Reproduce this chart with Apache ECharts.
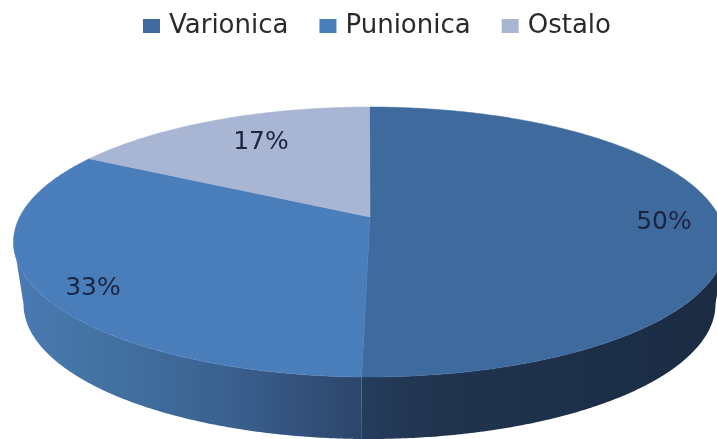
<!DOCTYPE html>
<html>
<head>
<meta charset="utf-8">
<style>html,body{margin:0;padding:0;background:#fff}#c{width:717px;height:439px}</style>
<script src="https://cdn.jsdelivr.net/npm/echarts@6/dist/echarts.min.js"></script>
</head>
<body>
<div id="c"></div>
<script>
const categories = ['Varionica', 'Punionica', 'Ostalo'];
const values = [50, 33, 17];
const topColors = ['#3f6a9e', '#4a7ebb', '#a8b6d4'];

const TOP = {cx: 369.5, cy: 242, rx: 356, ry: 135};
const BASE = {cx: 369.5, cy: 304, rx: 346, ry: 135};
const APEX = {x: 370, y: 217};
const K = 0.185;               // perspective strength of the tilted disc
const FRONT_SKEW = 0.022;      // slight rotation of the front rim
const LABEL_AT = [[664, 222], [93, 288], [261, 142]];
const FONT = '"DejaVu Sans", sans-serif';
const TEXT = '#1b2542';

const total = values.reduce((a, b) => a + b, 0);
const D = Math.PI * 2;

// Fraction of the pie -> parameter angle on the top ellipse (perspective)
function fracToT(f) {
  const th = f * D, X = Math.sin(th), Y = Math.cos(th);
  const a = Math.sqrt(1 - K * K);
  const u = a * X / (1 + K * Y);
  const v = (Y + K) / (1 + K * Y);
  let t = Math.atan2(u, v);
  if (t < 0) t += D;
  if (f >= 1) t = D;
  return t + FRONT_SKEW * (1 - Math.cos(th)) / 2;
}
const onE = (E, t) => [E.cx + E.rx * Math.sin(t), E.cy - E.ry * Math.cos(t)];
function arc(E, t0, t1) {
  const n = Math.max(2, Math.ceil(Math.abs(t1 - t0) / 0.01));
  const pts = [];
  for (let i = 0; i <= n; i++) pts.push(onE(E, t0 + (t1 - t0) * i / n));
  return pts;
}
const grad = stops => new echarts.graphic.LinearGradient(TOP.cx - TOP.rx, 0, TOP.cx + TOP.rx, 0,
  stops, true);
const wallFill = [
  grad([{offset: 0.49, color: '#263c5c'}, {offset: 0.6, color: '#20344f'}, {offset: 1, color: '#1a2b42'}]),
  grad([{offset: 0, color: '#4a7ab3'}, {offset: 0.15, color: '#41709f'}, {offset: 0.3, color: '#3a6190'},
        {offset: 0.42, color: '#324f79'}, {offset: 0.49, color: '#2c4669'}]),
  null
];

function makeRender(idx) {
  return function (params, api) {
    const start = values.slice(0, idx).reduce((a, b) => a + b, 0) / total;
    const end = start + values[idx] / total;
    const t0 = fracToT(start), t1 = fracToT(end);
    const children = [];
    // side wall: only the front half of the rim is visible
    const w0 = Math.max(t0, Math.PI / 2), w1 = Math.min(t1, Math.PI * 1.5);
    if (w1 > w0 && wallFill[idx]) {
      children.push({
        type: 'polygon',
        shape: {points: arc(TOP, w0, w1).concat(arc(BASE, w1, w0))},
        style: {fill: wallFill[idx]}
      });
    }
    children.push({
      type: 'polygon',
      shape: {points: [[APEX.x, APEX.y]].concat(arc(TOP, t0, t1))},
      style: {fill: api.visual('color'), stroke: api.visual('color'), lineWidth: 0.5}
    });
    children.push({
      type: 'text',
      style: {
        x: LABEL_AT[idx][0], y: LABEL_AT[idx][1],
        text: Math.round(values[idx] / total * 100) + '%',
        fill: TEXT, font: '25px ' + FONT, align: 'center', verticalAlign: 'middle'
      }
    });
    return {type: 'group', children};
  };
}

const chart = echarts.init(document.getElementById('c'), null, {renderer: 'canvas'});
chart.setOption({
  animation: false,
  backgroundColor: '#fff',
  legend: {
    left: 138, top: 8, icon: 'rect', itemWidth: 17, itemHeight: 14, itemGap: 31,
    textStyle: {fontFamily: FONT, fontSize: 26, color: '#2a2a2a', padding: [0, 0, 0, 4]},
    data: categories
  },
  series: categories.map((name, i) => ({
    type: 'custom',
    name,
    coordinateSystem: 'none',
    itemStyle: {color: topColors[i]},
    z: 2 + i,
    renderItem: makeRender(i),
    data: [[values[i]]]
  }))
});
</script>
</body>
</html>
